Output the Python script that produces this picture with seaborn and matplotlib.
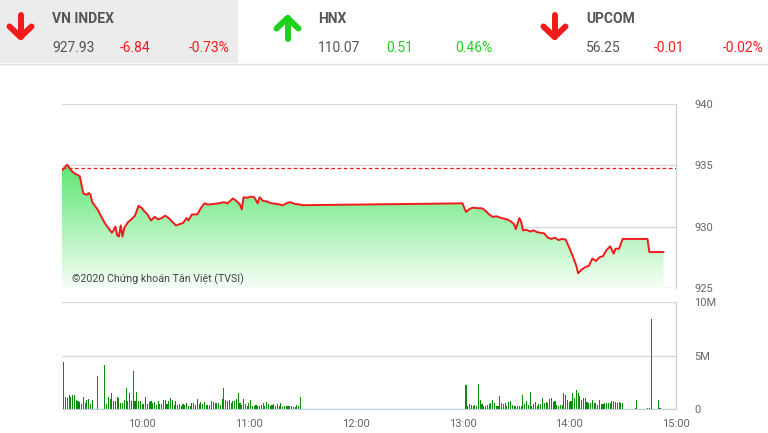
import numpy as np
import matplotlib
matplotlib.use("Agg")
import matplotlib.pyplot as plt
from matplotlib.colors import LinearSegmentedColormap
from matplotlib.patches import Polygon, Rectangle
import seaborn as sns

# header boxes
index_names = ["VN INDEX", "HNX", "UPCOM"]
index_values = ["927.93", "110.07", "56.25"]
index_changes = ["-6.84", "0.51", "-0.01"]
index_pcts = ["-0.73%", "0.46%", "-0.02%"]
index_up = [False, True, False]

# VN-Index intraday, time in minutes since midnight
price_time = [555, 557, 558, 560, 562, 564, 565, 567, 569, 570, 571, 572, 575, 579, 581, 583,
              584, 585, 586, 587, 588, 589, 590, 592, 594, 596, 598, 600, 601, 603, 605, 607,
              609, 611, 613, 615, 617, 619, 621, 623, 625, 626, 628, 631, 633, 635, 637, 640,
              643, 646, 648, 651, 653, 655, 656, 657, 659, 661, 663, 665, 666, 668, 670, 673,
              676, 679, 681, 683, 686, 689, 690,
              780, 782, 784, 786, 789, 791, 793, 795, 797, 799, 802, 805, 807, 809, 810, 812,
              813, 814, 816, 818, 820, 822, 824, 826, 828, 830, 832, 834, 836, 838, 840, 842,
              844, 845, 847, 849, 851, 853, 855, 857, 859, 861, 863, 865, 866, 868, 870, 884,
              885, 893]
price_value = [934.6, 934.9, 935.05, 934.6, 934.35, 934.2, 934.1, 932.7, 932.6, 932.75, 932.6,
               932.0, 931.4, 930.3, 929.9, 929.5, 929.7, 930.0, 929.3, 929.2, 930.1, 929.2,
               929.9, 930.35, 930.6, 930.9, 931.7, 931.5, 931.3, 931.0, 930.5, 930.8, 930.6,
               930.7, 930.9, 930.7, 930.4, 930.1, 930.2, 930.3, 930.7, 930.5, 931.0, 931.0,
               931.5, 931.9, 931.8, 931.85, 931.9, 932.0, 931.9, 932.3, 932.1, 931.8, 931.4,
               932.4, 932.35, 932.45, 932.4, 931.9, 932.4, 932.1, 932.05, 931.9, 931.85,
               931.74, 931.9, 932.0, 931.85, 931.8, 931.75,
               931.9, 931.2, 931.45, 931.55, 931.5, 931.5, 931.3, 931.0, 930.8, 930.85, 930.7,
               930.6, 930.45, 930.2, 929.8, 930.7, 930.4, 929.7, 929.75, 929.6, 929.7, 929.55,
               929.5, 929.45, 929.1, 929.0, 929.1, 928.9, 929.0, 928.95, 928.3, 927.6, 926.8,
               926.2, 926.5, 926.7, 926.8, 927.4, 927.2, 927.5, 927.6, 928.1, 928.4, 927.8,
               928.2, 928.2, 929.0, 929.0, 927.93, 927.93]
ref_price = 934.77

# volume (millions) per minute, morning from 9:16, afternoon from 13:02
am_volume = [4.35, 1.16, 1.0, 1.35, 1.1, 1.3, 1.35, 0.85, 0.72, 0.66, 0.47, 1.1, 0.57, 0.88,
             0.97, 0.5, 0.88, 0, 0, 3.05, 0, 0, 0, 4.1,
             0.5, 1.1, 0.94, 1.48, 0.72, 0.72, 1.1, 1.03, 0.6, 0.6, 0.88, 1.95, 0.79, 1.48,
             0.79, 3.55, 0.79, 1.57, 0.79, 0.72, 0.47, 0.47, 1.1, 0.47, 0.63, 0.72, 0.53, 0.63,
             0.41, 0.79, 0.47, 0.47, 0.88, 0.82, 0.47, 0.79, 1.0, 0.82, 0.41, 0.79, 0.41, 0.47,
             0.31, 0.5, 0.41, 0.57, 0.31, 0.31, 0.6, 0.57, 0.41, 0.97, 0.47, 0.69, 0.5, 0.66,
             0.41, 0.41, 0.41, 0.79, 0.66, 0.6, 0.6, 0.6, 0.41, 0.97, 1.95, 0.85, 0.79, 0.88,
             0.6, 0.72, 0.79, 0.97, 1.54, 0.57, 0.41, 0.97, 0.5, 0.31, 0.53, 0.88, 0.31, 0.31,
             0.41, 0.31, 0.31, 0.41, 0.57, 0.31, 0.69, 0.47, 0.25, 0.41, 0.47, 0.25, 0.47, 0.25,
             0.57, 0.19, 0.31, 0.31, 0.31, 0.31, 0.31, 0.19, 0.19, 0.41, 0.31, 1.1]
pm_volume = [2.2, 0.31, 0.47, 0.41, 0.25, 0.41, 0.25, 2.3, 0.88, 0.47, 0.31, 0.31, 0.41, 0.47,
             0.6, 0.88, 0.6, 0.31, 0.31, 1.26, 0.6, 0.47, 0.6, 0.25, 0.69, 0.79, 0.41, 0.31,
             0.31, 0.31, 0.31, 0.31, 1.35, 0.47, 0.79, 0.41, 1.63, 0.31, 0.5, 0.69, 0.31, 0.5,
             0.5, 1.07, 0.6, 0.69, 0.6, 0.97, 1.07, 0.69, 0.79, 0.41, 0.25, 0.41, 0.41, 1.45,
             1.35, 0.88, 0.66,
             0.72, 1.45, 1.07, 1.73, 1.48, 1.26, 0.88, 1.07, 1.07, 0.69, 0.57, 0.6, 0.82, 0.6,
             0.6, 0.41, 0.88, 0.47, 0.5, 0.6, 0.6, 0.6, 0.6, 0.72, 0.79, 0.69, 0.6, 0.69, 0.6, 0.6]
late_time = [877, 878, 884, 885, 886, 890, 891]
late_volume = [0.1, 0.88, 0.08, 0.08, 8.43, 0.88, 0.06]

time_ticks = [600, 660, 720, 780, 840, 900]
time_labels = ["10:00", "11:00", "12:00", "13:00", "14:00", "15:00"]

sns.set_style("white")
plt.rcParams['font.family'] = ['Roboto', 'DejaVu Sans']

RED = "#f21b1b"
GREEN = "#1fd11f"
GREY = "#555555"
TICK = "#666666"
GRID = "#d9d9d9"
BLUE = "#bfd0e2"

fig = plt.figure(figsize=(7.68, 4.33), dpi=100)

# header drawn in pixel coordinates
bg = fig.add_axes([0, 0, 1, 1])
bg.set_xlim(0, 768)
bg.set_ylim(433, 0)
bg.axis("off")
bg.add_patch(Rectangle((0, 0), 238, 63, color="#ececec", lw=0))
bg.plot([0, 768], [63.5, 63.5], color="#e3e3e3", lw=1)

arrow_x = [20.5, 287.5, 554.5]
text_x = [52, 318, 586]
for i in range(3):
    ax_ = arrow_x[i]
    if index_up[i]:
        col = GREEN
        bg.plot([ax_, ax_], [18, 39], color=col, lw=4.3, solid_capstyle="round")
        bg.plot([ax_ - 11, ax_, ax_ + 11], [28.5, 18, 28.5], color=col, lw=4.3,
                solid_capstyle="round", solid_joinstyle="round")
    else:
        col = RED
        bg.plot([ax_, ax_], [15, 37], color=col, lw=4.3, solid_capstyle="round")
        bg.plot([ax_ - 11, ax_, ax_ + 11], [26.5, 37, 26.5], color=col, lw=4.3,
                solid_capstyle="round", solid_joinstyle="round")
    tx = text_x[i]
    bg.text(tx, 19, index_names[i], fontsize=10, fontweight="bold", color=GREY,
            ha="left", va="center")
    bg.text(tx, 47.5, index_values[i], fontsize=10, color=GREY, ha="left", va="center")
    bg.text(tx + 68, 47.5, index_changes[i], fontsize=10, color=col, ha="left", va="center")
    bg.text(tx + 137, 47.5, index_pcts[i], fontsize=10, color=col, ha="left", va="center")

# price chart
axp = fig.add_axes([62 / 768, 1 - 288 / 433, 614 / 768, 184 / 433])
axp.patch.set_alpha(0)
sns.lineplot(x=price_time, y=price_value, color=RED, lw=1.4, ax=axp, zorder=4)

verts = [(price_time[0], 925)] + list(zip(price_time, price_value)) + [(price_time[-1], 925)]
poly = Polygon(verts, closed=True, facecolor="none", edgecolor="none")
axp.add_patch(poly)
grad = np.linspace(1, 0, 256).reshape(-1, 1)
cmap = LinearSegmentedColormap.from_list("fade", ["#f6fff6", "#5ce672"])
im = axp.imshow(grad, extent=[price_time[0], price_time[-1], 925, 935.1], aspect="auto",
                cmap=cmap, origin="upper", zorder=2, interpolation="bilinear")
im.set_clip_path(poly)

axp.axhline(ref_price, color=RED, lw=0.9, ls=(0, (3, 2)), zorder=3)
axp.set_xlim(555, 900)
axp.set_ylim(925, 940)
axp.set_yticks([925, 930, 935, 940])
axp.yaxis.tick_right()
axp.tick_params(axis="y", length=0, pad=13, labelsize=8, labelcolor=TICK)
axp.set_xticks([])
axp.grid(axis="y", color=GRID, lw=1)
axp.set_axisbelow(True)
for s in ["left", "top", "bottom"]:
    axp.spines[s].set_visible(False)
axp.spines["right"].set_color(BLUE)
axp.set_xlabel("")
axp.set_ylabel("")
axp.text(0.016, 0.05, "©2020 Chứng khoán Tân Việt (TVSI)", transform=axp.transAxes,
         fontsize=7.7, color="#444444", ha="left", va="center", zorder=5)

# volume chart
vol_time = list(range(556, 556 + len(am_volume))) + \
    list(range(782, 782 + len(pm_volume))) + late_time
vol_value = am_volume + pm_volume + late_volume

axv = fig.add_axes([62 / 768, 1 - 409 / 433, 614 / 768, 107 / 433])
axv.patch.set_alpha(0)
sns.barplot(x=vol_time, y=vol_value, native_scale=True, width=0.6, color="#0a8c0a",
            saturation=1, linewidth=0, errorbar=None, ax=axv)
axv.set_xlim(555, 900)
axv.set_ylim(0, 10)
axv.set_yticks([0, 5, 10])
axv.set_yticklabels(["0", "5M", "10M"])
axv.yaxis.tick_right()
axv.tick_params(axis="y", length=0, pad=13, labelsize=8, labelcolor=TICK)
axv.set_xticks(time_ticks)
axv.set_xticklabels(time_labels)
axv.tick_params(axis="x", length=5, width=1, color=BLUE, labelsize=8, labelcolor=TICK, pad=2)
axv.grid(axis="y", color=GRID, lw=1)
axv.set_axisbelow(True)
for s in ["left", "top"]:
    axv.spines[s].set_visible(False)
axv.spines["right"].set_color(BLUE)
axv.spines["bottom"].set_color(BLUE)
axv.set_xlabel("")
axv.set_ylabel("")

fig.savefig("out.png", dpi=100)
